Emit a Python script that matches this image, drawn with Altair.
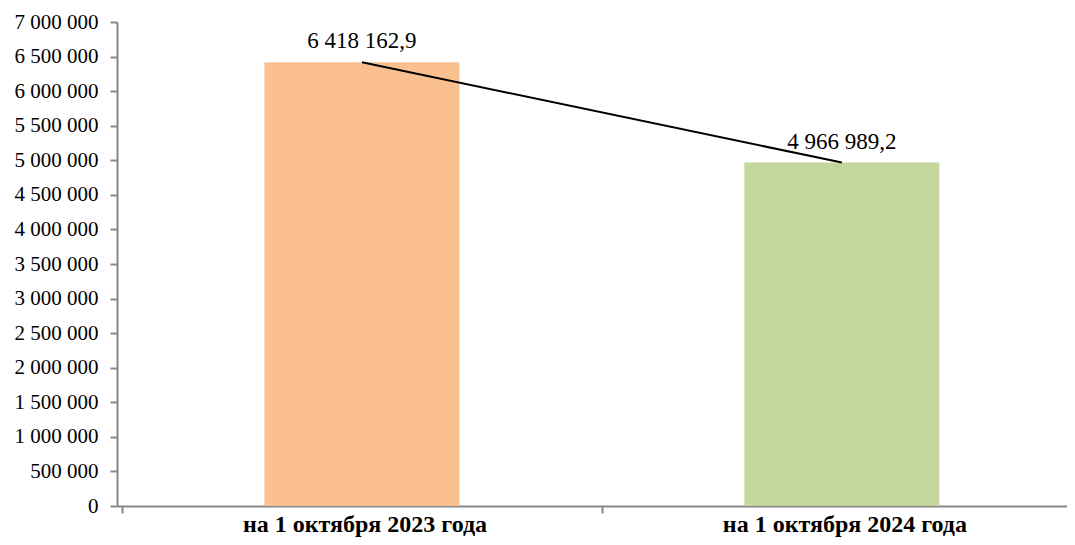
import altair as alt
import pandas as pd

categories = ["на 1 октября 2023 года", "на 1 октября 2024 года"]
values = [6418162.9, 4966989.2]
bar_colors = ["#FAC090", "#C3D69B"]
y_ticks = list(range(0, 7000001, 500000))

FONT = "'Times New Roman', 'Liberation Serif', serif"
AXIS_GRAY = "#868686"

PLOT_W = 950
CAT_STEP = 485  # pixels per category

df = pd.DataFrame({
    "cat": categories,
    "value": values,
    "pos": [i + 0.5 for i in range(len(categories))],
})

label_expr = " : ".join(
    [f"datum.value == {i} ? '{c}'" for i, c in enumerate(categories)] + ["''"]
)

x_enc = alt.X(
    "pos:Q",
    scale=alt.Scale(domain=[0, PLOT_W / CAT_STEP], nice=False, zero=False),
    axis=alt.Axis(
        values=list(range(len(categories))),
        labelExpr=label_expr,
        labelOffset=CAT_STEP / 2,
        labelFont=FONT,
        labelFontSize=24,
        labelFontWeight="bold",
        labelColor="black",
        labelBaseline="alphabetic",
        labelPadding=18,
        labelLimit=0,
        tickSize=7,
        tickColor=AXIS_GRAY,
        domainColor=AXIS_GRAY,
        domainWidth=2,
        tickWidth=2,
        grid=False,
        title=None,
        labelFlush=False,
        labelOverlap=False,
    ),
)

y_enc = alt.Y(
    "value:Q",
    scale=alt.Scale(domain=[0, 7000000], nice=False),
    axis=alt.Axis(
        values=y_ticks,
        format=",d",
        labelFont=FONT,
        labelFontSize=21,
        labelColor="black",
        labelPadding=12,
        labelOverlap=False,
        labelLimit=0,
        tickSize=7,
        tickColor=AXIS_GRAY,
        domainColor=AXIS_GRAY,
        domainWidth=2,
        tickWidth=2,
        grid=False,
        title=None,
    ),
)

base = alt.Chart(df).encode(x=x_enc, y=y_enc)

bars = base.mark_bar(size=195).encode(
    color=alt.Color("cat:N", scale=alt.Scale(domain=categories, range=bar_colors), legend=None),
)

line = base.mark_line(color="black", strokeWidth=2)

labels = base.mark_text(dy=-14, baseline="alphabetic", font=FONT, fontSize=23, color="black").encode(
    text=alt.Text("value:Q", format=",.1f"),
)

chart = (
    alt.layer(bars, line, labels)
    .properties(
        width=PLOT_W,
        height=484,
        autosize=alt.AutoSizeParams(type="none"),
        padding={"left": 109, "top": 14, "right": 0, "bottom": 31},
    )
    .configure(
        font=FONT,
        locale={"number": {"decimal": ",", "thousands": " ", "grouping": [3], "currency": ["", ""]}},
    )
    .configure_view(stroke=None)
)

chart.save("out.html", embed_options={"renderer": "svg", "actions": False})
